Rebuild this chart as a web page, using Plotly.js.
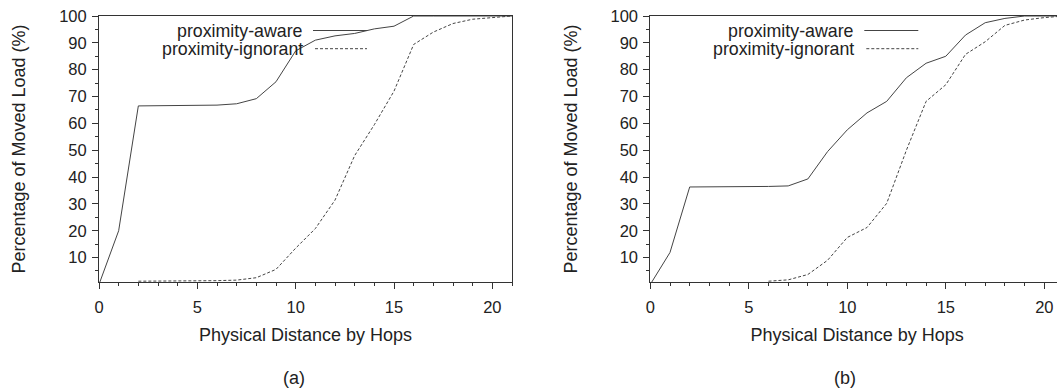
<!DOCTYPE html>
<html>
<head>
<meta charset="utf-8">
<script src="https://cdn.plot.ly/plotly-3.0.1.min.js"></script>
<style>
html, body { margin: 0; padding: 0; overflow: hidden; background: #fff; }
#chart { width: 1064px; height: 391px; }
</style>
</head>
<body>
<div id="chart"></div>
<script>
// ---- data ----
const seriesNames = ['proximity-aware', 'proximity-ignorant'];

const hopsAwareA = [0,1,2,3,4,5,6,7,8,9,10,11,12,13,14,15,16,17,18,19,20,21];
const awareA     = [0,20,66.5,66.6,66.7,66.7,66.8,67.3,69.2,75.5,87,91,92.6,93.5,95.2,96.2,100,100,100,100,100,100];

const hopsIgnorantA = [2,3,4,5,6,7,8,9,10,11,12,13,14,15,16,17,18,19,20,21];
const ignorantA     = [1.2,1.2,1.3,1.3,1.4,1.6,2.5,5.6,13.5,20.8,31.4,48,59.5,72,89.4,94,97.2,98.8,99.4,100];

const hopsAwareB = [0,1,2,3,4,5,6,7,8,9,10,11,12,13,14,15,16,17,18,19,20,21];
const awareB     = [0,11.9,36.3,36.3,36.3,36.4,36.5,36.7,39.3,49.5,57.6,63.9,68.2,77,82.4,85,92.9,97.5,99.1,100,100,100];

const hopsIgnorantB = [6,7,8,9,10,11,12,13,14,15,16,17,18,19,20,21];
const ignorantB     = [1.2,1.7,3.7,9,17.5,21.2,30.2,50,68.2,74.4,85.7,90.4,96.5,98.5,99.4,100];

const xTitle = 'Physical Distance by Hops';
const yTitle = 'Percentage of Moved Load (%)';
const panelLabels = ['(a)', '(b)'];

// ---- layout helpers ----
const W = 1064, H = 391;
const px = v => v / W;
const py = v => 1 - v / H;
const FONT = 'Liberation Sans, Arial, Helvetica, sans-serif';
const LINE = '#444444';
const AXC = '#333333';
const TXT = '#222222';

const aware = { color: LINE, width: 1 };
const ignorant = { color: LINE, width: 1, dash: '3px,2px' };

const traces = [
  { x: hopsAwareA, y: awareA, xaxis: 'x', yaxis: 'y', mode: 'lines', line: aware, name: seriesNames[0], showlegend: false },
  { x: hopsIgnorantA, y: ignorantA, xaxis: 'x', yaxis: 'y', mode: 'lines', line: ignorant, name: seriesNames[1], showlegend: false },
  { x: hopsAwareB, y: awareB, xaxis: 'x2', yaxis: 'y2', mode: 'lines', line: aware, name: seriesNames[0], showlegend: false },
  { x: hopsIgnorantB, y: ignorantB, xaxis: 'x2', yaxis: 'y2', mode: 'lines', line: ignorant, name: seriesNames[1], showlegend: false }
];

function xAxis(domain, anchor) {
  return {
    domain: domain, anchor: anchor, range: [0, 21],
    tick0: 0, dtick: 5, ticks: 'outside', ticklen: 6, tickwidth: 1, tickcolor: AXC,
    minor: { dtick: 1, ticks: 'outside', ticklen: 3, tickwidth: 1, tickcolor: AXC },
    showline: true, linecolor: AXC, linewidth: 1, mirror: true,
    showgrid: false, zeroline: false, ticklabelstandoff: 4,
    tickfont: { family: FONT, size: 16.5, color: TXT },
    title: { text: xTitle, font: { family: FONT, size: 18, color: TXT }, standoff: 13 },
    automargin: false
  };
}
function yAxis(domain, anchor) {
  return {
    domain: domain, anchor: anchor, range: [0.9, 100],
    tick0: 0, dtick: 10, ticks: 'outside', ticklen: 6, tickwidth: 1, tickcolor: AXC,
    minor: { dtick: 5, ticks: 'outside', ticklen: 3, tickwidth: 1, tickcolor: AXC },
    showline: true, linecolor: AXC, linewidth: 1, mirror: true,
    showgrid: false, zeroline: false, ticklabelstandoff: 2,
    tickfont: { family: FONT, size: 16.5, color: TXT },
    title: { text: yTitle, font: { family: FONT, size: 18, color: TXT }, standoff: 28 },
    automargin: false
  };
}

const yDom = [py(282), py(16)];
const left0 = 99, left1 = 512, right0 = 650.3;

const annotations = [];
const shapes = [];
[[left0, 0], [right0, 1]].forEach(([x0, i]) => {
  annotations.push({ xref: 'paper', yref: 'paper', x: px(x0 + 206), y: py(31), xanchor: 'right', yanchor: 'middle',
    text: seriesNames[0], showarrow: false, font: { family: FONT, size: 17.8, color: TXT } });
  annotations.push({ xref: 'paper', yref: 'paper', x: px(x0 + 206), y: py(49), xanchor: 'right', yanchor: 'middle',
    text: seriesNames[1], showarrow: false, font: { family: FONT, size: 17.8, color: TXT } });
  shapes.push({ type: 'line', xref: 'paper', yref: 'paper', x0: px(x0 + 214), x1: px(x0 + 268), y0: py(30.5), y1: py(30.5),
    line: { color: LINE, width: 1 } });
  shapes.push({ type: 'line', xref: 'paper', yref: 'paper', x0: px(x0 + 216), x1: px(x0 + 268), y0: py(48.7), y1: py(48.7),
    line: { color: LINE, width: 1, dash: '3px,2px' } });
  annotations.push({ xref: 'paper', yref: 'paper', x: px(x0 + 195), y: py(378), xanchor: 'center', yanchor: 'middle',
    text: panelLabels[i], showarrow: false, font: { family: FONT, size: 18, color: TXT } });
});

const layout = {
  width: W, height: H,
  margin: { l: 0, r: 0, t: 0, b: 0, pad: 0 },
  paper_bgcolor: '#ffffff', plot_bgcolor: '#ffffff',
  showlegend: false,
  xaxis: xAxis([px(left0), px(left1)], 'y'),
  yaxis: yAxis(yDom, 'x'),
  xaxis2: xAxis([px(right0), 1], 'y2'),
  yaxis2: yAxis(yDom, 'x2'),
  annotations: annotations,
  shapes: shapes
};

Plotly.newPlot('chart', traces, layout, { displayModeBar: false, staticPlot: true });
</script>
</body>
</html>
